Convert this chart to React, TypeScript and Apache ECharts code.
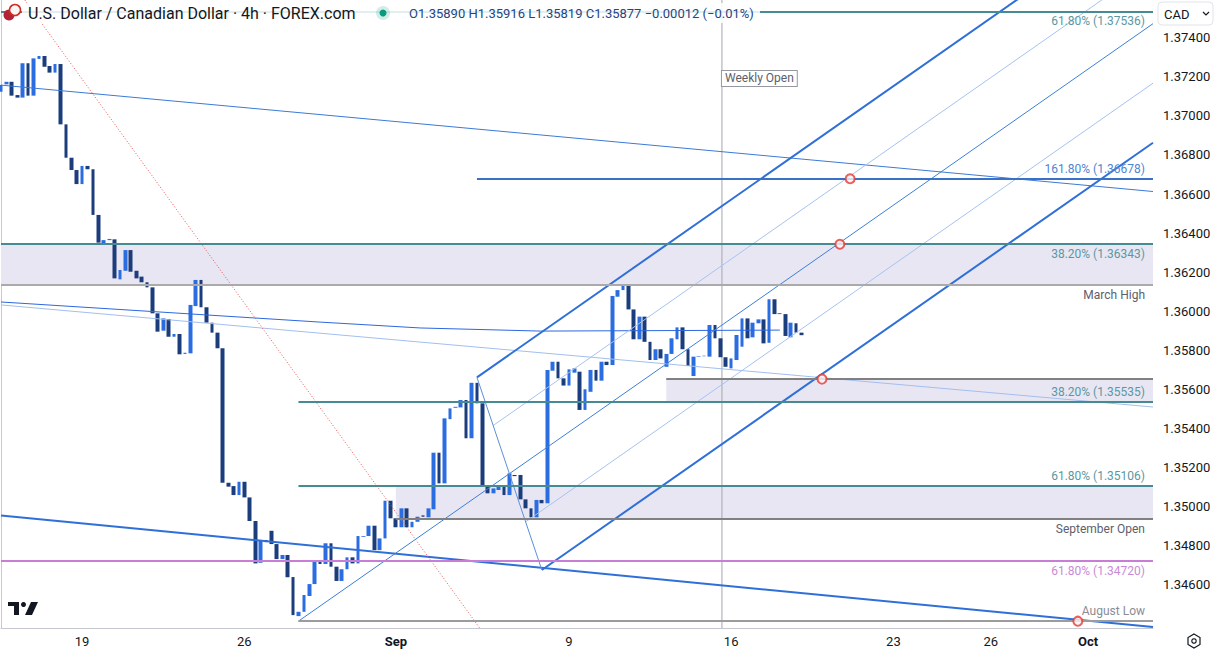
import React, { useEffect, useRef } from 'react';
import * as echarts from 'echarts';

const FONT = 'Roboto, "Noto Sans", Arial, sans-serif';

// ---- x axis (4h bar slots, incl. empty future space) ----
const barSlots = 214;
const tickIndex = [15, 45, 73, 105, 135, 165, 183, 201];
const tickText = ['19', '26', 'Sep', '9', '16', '23', '26', 'Oct'];

// ---- candles (USD/CAD 4h) ----
const opens = [
  1.37124, 1.37162, 1.37175, 1.37107, 1.37094, 1.37270, 1.37104, 1.37292, 1.37307, 1.37256,
  1.37222, 1.37266, 1.36957, 1.36786, 1.36723, 1.36651, 1.36744, 1.36727, 1.36493, 1.36348,
  1.36364, 1.36368, 1.36163, 1.36207, 1.36313, 1.36207, 1.36177, 1.36148, 1.36122, 1.35989,
  1.35900, 1.35960, 1.35869, 1.35883, 1.35781, 1.35784, 1.36026, 1.36160, 1.36020, 1.35941,
  1.35890, 1.35810, 1.35121, 1.35104, 1.35058, 1.35126, 1.35046, 1.34925, 1.34711, 1.34828,
  1.34875, 1.34807, 1.34730, 1.34751, 1.34638, 1.34438, 1.34460, 1.34541, 1.34602, 1.34716,
  1.34705, 1.34811, 1.34691, 1.34618, 1.34678, 1.34739, 1.34708, 1.34844, 1.34848, 1.34901,
  1.34776, 1.34836, 1.35029, 1.34939, 1.34893, 1.34990, 1.34893, 1.34921, 1.34954, 1.34944,
  1.34985, 1.35275, 1.35118, 1.35447, 1.35505, 1.35507, 1.35545, 1.35349, 1.35633, 1.35528,
  1.35109, 1.35067, 1.35084, 1.35104, 1.35058, 1.35161, 1.35161, 1.35036, 1.34990, 1.34944,
  1.35033, 1.35016, 1.35695, 1.35741, 1.35656, 1.35619, 1.35685, 1.35690, 1.35494, 1.35587,
  1.35699, 1.35644, 1.35741, 1.35724, 1.36074, 1.36108, 1.36139, 1.36009, 1.35856, 1.35972,
  1.35843, 1.35750, 1.35805, 1.35715, 1.35781, 1.35856, 1.35917, 1.35805, 1.35668, 1.35767,
  1.35769, 1.35767, 1.35929, 1.35861, 1.35764, 1.35707, 1.35750, 1.35818, 1.35963, 1.35866,
  1.35938, 1.35958, 1.35838, 1.36061, 1.35989, 1.35985, 1.35866, 1.35938, 1.35890,
];
const closes = [
  1.37159, 1.37175, 1.37104, 1.37094, 1.37270, 1.37104, 1.37295, 1.37307, 1.37252, 1.37222,
  1.37266, 1.36957, 1.36786, 1.36723, 1.36651, 1.36744, 1.36727, 1.36493, 1.36351, 1.36364,
  1.36370, 1.36168, 1.36211, 1.36313, 1.36202, 1.36168, 1.36148, 1.36122, 1.35989, 1.35895,
  1.35963, 1.35869, 1.35883, 1.35779, 1.35787, 1.36032, 1.36160, 1.36020, 1.35941, 1.35890,
  1.35810, 1.35121, 1.35101, 1.35058, 1.35126, 1.35046, 1.34925, 1.34708, 1.34828, 1.34817,
  1.34807, 1.34730, 1.34751, 1.34637, 1.34443, 1.34460, 1.34546, 1.34602, 1.34716, 1.34705,
  1.34811, 1.34691, 1.34618, 1.34678, 1.34739, 1.34708, 1.34848, 1.34848, 1.34901, 1.34776,
  1.34836, 1.35029, 1.34939, 1.34893, 1.34990, 1.34893, 1.34921, 1.34947, 1.34947, 1.34990,
  1.35275, 1.35118, 1.35451, 1.35502, 1.35510, 1.35545, 1.35349, 1.35633, 1.35528, 1.35109,
  1.35067, 1.35092, 1.35109, 1.35058, 1.35169, 1.35155, 1.35036, 1.34990, 1.34944, 1.35033,
  1.35016, 1.35699, 1.35741, 1.35656, 1.35619, 1.35702, 1.35707, 1.35494, 1.35600, 1.35699,
  1.35644, 1.35741, 1.35724, 1.36078, 1.36108, 1.36139, 1.36009, 1.35856, 1.35972, 1.35843,
  1.35750, 1.35805, 1.35758, 1.35781, 1.35861, 1.35917, 1.35805, 1.35719, 1.35767, 1.35770,
  1.35772, 1.35929, 1.35861, 1.35764, 1.35715, 1.35758, 1.35878, 1.35963, 1.35861, 1.35941,
  1.35958, 1.35835, 1.36061, 1.35985, 1.35985, 1.35873, 1.35941, 1.35890, 1.35877,
];
const lows = [
  1.37116, 1.37133, 1.37099, 1.37031, 1.36988, 1.36954, 1.37090, 1.37278, 1.37219, 1.37172,
  1.37167, 1.36954, 1.36778, 1.36689, 1.36624, 1.36638, 1.36723, 1.36364, 1.36305, 1.36305,
  1.36291, 1.36160, 1.36061, 1.36206, 1.36168, 1.36143, 1.36143, 1.36061, 1.35912, 1.35767,
  1.35770, 1.35838, 1.35861, 1.35721, 1.35767, 1.35781, 1.36024, 1.36002, 1.35934, 1.35869,
  1.35801, 1.35016, 1.34995, 1.35019, 1.35002, 1.35029, 1.34904, 1.34640, 1.34665, 1.34802,
  1.34790, 1.34703, 1.34637, 1.34520, 1.34435, 1.34412, 1.34452, 1.34503, 1.34588, 1.34495,
  1.34678, 1.34678, 1.34614, 1.34563, 1.34506, 1.34631, 1.34705, 1.34793, 1.34841, 1.34700,
  1.34660, 1.34828, 1.34793, 1.34862, 1.34862, 1.34870, 1.34883, 1.34904, 1.34913, 1.34930,
  1.34978, 1.35053, 1.35109, 1.35354, 1.35459, 1.35417, 1.35336, 1.35340, 1.35519, 1.35007,
  1.35053, 1.35041, 1.35049, 1.35041, 1.35041, 1.35075, 1.35033, 1.34978, 1.34930, 1.34862,
  1.34674, 1.34978, 1.35579, 1.35630, 1.35524, 1.35610, 1.35630, 1.35473, 1.35480, 1.35558,
  1.35622, 1.35630, 1.35715, 1.35719, 1.36015, 1.36100, 1.36006, 1.35848, 1.35750, 1.35838,
  1.35682, 1.35715, 1.35715, 1.35652, 1.35695, 1.35843, 1.35770, 1.35715, 1.35656, 1.35724,
  1.35707, 1.35758, 1.35852, 1.35760, 1.35685, 1.35699, 1.35746, 1.35810, 1.35827, 1.35852,
  1.35895, 1.35818, 1.35805, 1.35838, 1.35920, 1.35866, 1.35852, 1.35856, 1.35819,
];
const highs = [
  1.37244, 1.37201, 1.37261, 1.37133, 1.37283, 1.37384, 1.37384, 1.37355, 1.37355, 1.37290,
  1.37375, 1.37287, 1.37010, 1.36860, 1.36740, 1.36749, 1.36851, 1.36774, 1.36544, 1.36373,
  1.36416, 1.36416, 1.36339, 1.36411, 1.36339, 1.36250, 1.36242, 1.36236, 1.36124, 1.36117,
  1.36023, 1.35962, 1.35929, 1.35895, 1.35951, 1.36190, 1.36165, 1.36185, 1.36032, 1.35951,
  1.35929, 1.35869, 1.35161, 1.35161, 1.35131, 1.35135, 1.35135, 1.34967, 1.34904, 1.34888,
  1.34883, 1.34819, 1.34816, 1.34756, 1.34648, 1.34503, 1.34555, 1.34657, 1.34785, 1.34785,
  1.34888, 1.34819, 1.34742, 1.34756, 1.34768, 1.34916, 1.34858, 1.34913, 1.34910, 1.34913,
  1.34862, 1.35101, 1.35075, 1.34944, 1.35049, 1.35007, 1.35019, 1.35058, 1.34964, 1.35033,
  1.35297, 1.35278, 1.35502, 1.35627, 1.35565, 1.35565, 1.35554, 1.35639, 1.35661, 1.35545,
  1.35272, 1.35126, 1.35144, 1.35135, 1.35241, 1.35258, 1.35186, 1.35058, 1.35007, 1.35058,
  1.35058, 1.35827, 1.35775, 1.35750, 1.35678, 1.35733, 1.35733, 1.35770, 1.35619, 1.35733,
  1.35719, 1.35758, 1.35797, 1.36156, 1.36143, 1.36168, 1.36168, 1.36015, 1.36043, 1.36231,
  1.35856, 1.35818, 1.35856, 1.35786, 1.35873, 1.36048, 1.35972, 1.35810, 1.35784, 1.35838,
  1.35949, 1.35951, 1.36006, 1.35866, 1.35827, 1.35810, 1.35887, 1.36074, 1.35980, 1.35989,
  1.35985, 1.35980, 1.36168, 1.36078, 1.36048, 1.35989, 1.35951, 1.35946, 1.35916,
];

// ---- price axis ----
const yMin = 1.34377;
const yMax = 1.37594;
const priceTicks = [1.346, 1.348, 1.35, 1.352, 1.354, 1.356, 1.358, 1.36, 1.362, 1.364, 1.366, 1.368, 1.37, 1.372, 1.374];

// ---- horizontal levels: price, first bar, text ----
const levelPrices = [1.37536, 1.36678, 1.36343, 1.36136, 1.35652, 1.35535, 1.35106, 1.34935, 1.3472, 1.34412];
const levelStart = [0, 88, 0, 0, 123, 55, 55, 73, 0, 55];
const levelText = ['61.80% (1.37536)', '161.80% (1.36678)', '38.20% (1.36343)', 'March High', '', '38.20% (1.35535)', '61.80% (1.35106)', 'September Open', '61.80% (1.34720)', 'August Low'];
const levelSide = ['below', 'above', 'below', 'below', '', 'above', 'above', 'below', 'below', 'above'];

// ---- shaded zones: first bar, top, bottom ----
const zoneStart = [0, 123, 73];
const zoneTop = [1.36343, 1.35652, 1.35106];
const zoneBottom = [1.36136, 1.35535, 1.34935];

// ---- price-axis boxes ----
const boxPrices = [1.36136, 1.35877, 1.35652, 1.34935, 1.34412];

// ---- drawings (bar index, price) ----
const upperTrend = [[0, 1.37158], [213, 1.36613]];
const lightTrend = [[0, 1.36032], [213, 1.35509]];
const lowerChannel = [[0, 1.34953], [213, 1.34382]];
const averageCurve = [[0, 1.36047], [59, 1.35944], [77.5, 1.35914], [99.7, 1.35898], [144, 1.35903]];
const redDotted = [[4.4, 1.37594], [88.5, 1.34377]];
const pfA = [55, 1.34412];
const pfB = [88, 1.35661];
const pfC = [100, 1.34674];
const weeklyOpenIndex = 133.3;
const weeklyOpenLabelPrice = 1.37192;
const circlePoints = [[157.0, 1.36678], [155.1, 1.36343], [151.8, 1.35652], [199.1, 1.34412]];

// ---- styles ----
const UP = '#2a6de0';
const DOWN = '#1c3d7c';
const WICK = '#1b2c4e';
const TEAL = '#468b92';
const TEAL_TXT = '#5a98a1';
const levelLineColor = [TEAL, '#3a70c6', TEAL, '#aaaaaa', '#808080', TEAL, TEAL, '#808080', '#c77ed4', '#9c9c9c'];
const levelTextColor = [TEAL_TXT, '#4f84d0', TEAL_TXT, '#5d606b', '', TEAL_TXT, TEAL_TXT, '#5d606b', '#c98ad6', '#8a8d96'];
const boxBg = ['#b2b5be', '#1e4684', '#787b86', '#787b86', '#a3a6af'];
const boxFg = ['#131722', '#ffffff', '#ffffff', '#ffffff', '#131722'];
const ZONE = '#e9e6f3';

function buildOption(): any {
  const last = barSlots - 1;
  const categories = Array.from({ length: barSlots }, (_, i) => String(i));
  const bodies = opens.map((o, i) => [o, closes[i], Math.min(o, closes[i]), Math.max(o, closes[i])]);
  const wicks = opens.map((_, i) => [lows[i], highs[i], lows[i], highs[i]]);

  const mid = [(pfB[0] + pfC[0]) / 2, (pfB[1] + pfC[1]) / 2];
  const slope = (mid[1] - pfA[1]) / (mid[0] - pfA[0]);
  const ray = (p: number[]) => [[p[0], p[1]], [last, p[1] + slope * (last - p[0])]];
  const upHalf = [(pfB[0] + mid[0]) / 2, (pfB[1] + mid[1]) / 2];
  const loHalf = [(mid[0] + pfC[0]) / 2, (mid[1] + pfC[1]) / 2];

  const line = (data: any, color: string, width: number, type: any = 'solid', z = 4) => ({
    type: 'line', xAxisIndex: 1, yAxisIndex: 0, data, symbol: 'none', silent: true, z,
    lineStyle: { color, width, type }, emphasis: { disabled: true }, clip: true,
  });

  const levelLines = levelPrices.map((p, k) => {
    const from: any = { coord: [levelStart[k], p], lineStyle: { color: levelLineColor[k], width: 2, type: 'solid' } };
    from.label = levelText[k]
      ? {
          show: true,
          position: levelSide[k] === 'above' ? 'insideEndTop' : 'insideEndBottom',
          formatter: levelText[k], color: levelTextColor[k], fontSize: 12, fontFamily: FONT, distance: [8, 4],
        }
      : { show: false };
    return [from, { coord: [last, p] }];
  });
  const boxLines = boxPrices.map((p, k) => [
    {
      coord: [0, p], lineStyle: { opacity: 0, width: 1 },
      label: {
        show: true, position: 'end', distance: 0, formatter: p.toFixed(5),
        backgroundColor: boxBg[k], color: boxFg[k], fontSize: 13, fontFamily: FONT, padding: [4, 6, 3, 6],
      },
    },
    { coord: [last, p] },
  ]);

  const tvDark = '#131722';

  return {
    animation: false,
    backgroundColor: '#ffffff',
    textStyle: { fontFamily: FONT },
    grid: { left: 1, right: 63, top: 0, bottom: 26, outerBoundsMode: 'none' },
    xAxis: [
      {
        type: 'category', data: categories, boundaryGap: false,
        axisLine: { show: true, lineStyle: { color: '#c7c9d0' } },
        axisTick: { show: false },
        splitLine: { show: false },
        axisLabel: {
          interval: (i: number) => tickIndex.includes(i),
          formatter: (_v: string, i: number) => {
            const k = tickIndex.indexOf(i);
            if (k < 0) return '';
            const t = tickText[k];
            return t === 'Sep' || t === 'Oct' ? `{b|${t}}` : t;
          },
          color: tvDark, fontSize: 13, fontFamily: FONT, margin: 7,
          rich: { b: { fontWeight: 'bold', fontSize: 13, color: tvDark, fontFamily: FONT } },
        },
      },
      { type: 'value', min: 0, max: last, show: false },
    ],
    yAxis: {
      type: 'value', position: 'right', min: yMin, max: yMax,
      axisLine: { show: true, lineStyle: { color: '#c7c9d0' } },
      axisTick: { show: false },
      splitLine: { show: false },
      axisLabel: {
        customValues: priceTicks, formatter: (v: number) => v.toFixed(5),
        color: tvDark, fontSize: 13, fontFamily: FONT, margin: 10,
      },
    },
    series: [
      {
        type: 'line', xAxisIndex: 1, yAxisIndex: 0, data: [[0, 1.2]], symbol: 'none', silent: true, z: 1,
        lineStyle: { opacity: 0 },
        markArea: {
          silent: true,
          itemStyle: { color: ZONE },
          data: zoneStart.map((s, k) => [{ coord: [s, zoneTop[k]] }, { coord: [last, zoneBottom[k]] }]),
        },
      },
      {
        ...line([[weeklyOpenIndex, yMin], [weeklyOpenIndex, yMax]], '#a3a6af', 1, 'solid', 2),
        markPoint: {
          silent: true,
          data: [{
            coord: [weeklyOpenIndex, weeklyOpenLabelPrice], symbol: 'circle', symbolSize: 0,
            label: {
              show: true, position: 'right', distance: 0, formatter: 'Weekly Open',
              color: '#5d606b', fontSize: 12, fontFamily: FONT, backgroundColor: '#ffffff',
              borderColor: '#9598a1', borderWidth: 1, padding: [2, 3, 1, 3],
            },
          }],
        },
      },
      {
        type: 'candlestick', xAxisIndex: 0, yAxisIndex: 0, data: wicks, barWidth: 1.2, silent: true, z: 3,
        itemStyle: { color: WICK, color0: WICK, borderColor: WICK, borderColor0: WICK, borderWidth: 0 },
      },
      {
        type: 'candlestick', xAxisIndex: 0, yAxisIndex: 0, data: bodies, barWidth: 4.2, silent: true, z: 3,
        itemStyle: { color: UP, color0: DOWN, borderColor: UP, borderColor0: DOWN, borderWidth: 0 },
      },
      line(upperTrend, '#3c7ad6', 1),
      line(lightTrend, '#a2bfee', 1),
      line(averageCurve, '#2d68e0', 1),
      line(lowerChannel, '#2f6fd8', 2),
      line(redDotted, '#ef5350', 1, [1, 2]),
      line(ray(pfA), '#3d7fd9', 1),
      line(ray(pfB), '#2f6fd8', 2),
      line(ray(pfC), '#2f6fd8', 2),
      line(ray(upHalf), '#a6c3f0', 1),
      line(ray(loHalf), '#a6c3f0', 1),
      line([pfB, pfC], '#5b8fd9', 1),
      {
        type: 'line', xAxisIndex: 1, yAxisIndex: 0, data: [[0, 1.2]], symbol: 'none', silent: true, z: 5,
        lineStyle: { opacity: 0 },
        markLine: {
          symbol: ['none', 'none'], silent: true, animation: false,
          emphasis: { disabled: true },
          data: [...levelLines, ...boxLines],
        },
      },
      {
        type: 'scatter', xAxisIndex: 1, yAxisIndex: 0, data: circlePoints, symbol: 'circle', symbolSize: 9,
        silent: true, z: 6,
        itemStyle: { color: '#fff2f2', borderColor: '#e53935', borderWidth: 2 },
      },
    ],
    graphic: {
      elements: [
        { type: 'rect', z: 100, silent: true, shape: { x: 22, y: 3, width: 738, height: 20 }, style: { fill: 'rgba(255,255,255,0.85)' } },
        { type: 'circle', z: 101, silent: true, shape: { cx: 9, cy: 15, r: 5.5 }, style: { fill: '#b22234' } },
        { type: 'circle', z: 102, silent: true, shape: { cx: 15, cy: 10, r: 5.5 }, style: { fill: '#f6f6f6', stroke: '#d52b1e', lineWidth: 1.5 } },
        {
          type: 'text', z: 101, silent: true, x: 28, y: 13,
          style: { text: 'U.S. Dollar / Canadian Dollar · 4h · FOREX.com', fontSize: 16, fontFamily: FONT, fill: tvDark, verticalAlign: 'middle' },
        },
        { type: 'circle', z: 101, silent: true, shape: { cx: 383, cy: 13, r: 7 }, style: { fill: 'rgba(8,153,129,0.18)' } },
        { type: 'circle', z: 102, silent: true, shape: { cx: 383, cy: 13, r: 3.5 }, style: { fill: '#089981' } },
        {
          type: 'text', z: 101, silent: true, x: 409, y: 13,
          style: { text: 'O1.35890 H1.35916 L1.35819 C1.35877 −0.00012 (−0.01%)', fontSize: 13, fontFamily: FONT, fill: '#1e4684', verticalAlign: 'middle' },
        },
        { type: 'rect', z: 101, silent: true, shape: { x: 1158, y: 2, width: 55, height: 23, r: 4 }, style: { fill: '#ffffff', stroke: '#e0e3eb', lineWidth: 1 } },
        { type: 'text', z: 102, silent: true, x: 1164, y: 14, style: { text: 'CAD', fontSize: 13, fontFamily: FONT, fill: tvDark, verticalAlign: 'middle' } },
        { type: 'polyline', z: 102, silent: true, shape: { points: [[1203, 12], [1206, 15], [1209, 12]] }, style: { stroke: tvDark, lineWidth: 1.2, fill: 'none' } },
        { type: 'rect', z: 101, silent: true, shape: { x: 8, y: 602, width: 11, height: 4 }, style: { fill: tvDark } },
        { type: 'rect', z: 101, silent: true, shape: { x: 14, y: 602, width: 5, height: 13 }, style: { fill: tvDark } },
        { type: 'circle', z: 101, silent: true, shape: { cx: 23.5, cy: 604.5, r: 2.5 }, style: { fill: tvDark } },
        { type: 'polygon', z: 101, silent: true, shape: { points: [[31, 602], [38, 602], [32, 615], [25, 615]] }, style: { fill: tvDark } },
        {
          type: 'polygon', z: 101, silent: true,
          shape: { points: [[1194, 634], [1200, 637.5], [1200, 644.5], [1194, 648], [1188, 644.5], [1188, 637.5]] },
          style: { stroke: tvDark, lineWidth: 1.2, fill: 'none' },
        },
        { type: 'circle', z: 101, silent: true, shape: { cx: 1194, cy: 641, r: 2.2 }, style: { stroke: tvDark, lineWidth: 1.2, fill: 'none' } },
      ],
    },
  };
}

export default function App() {
  const ref = useRef<HTMLDivElement>(null);
  useEffect(() => {
    if (!ref.current) return;
    const chart = echarts.init(ref.current, undefined, { renderer: 'svg' });
    chart.setOption(buildOption());
    return () => chart.dispose();
  }, []);
  return (
    <div
      ref={ref}
      style={{ position: 'absolute', left: 0, top: 0, width: 1216, height: 654, background: '#ffffff' }}
    />
  );
}
